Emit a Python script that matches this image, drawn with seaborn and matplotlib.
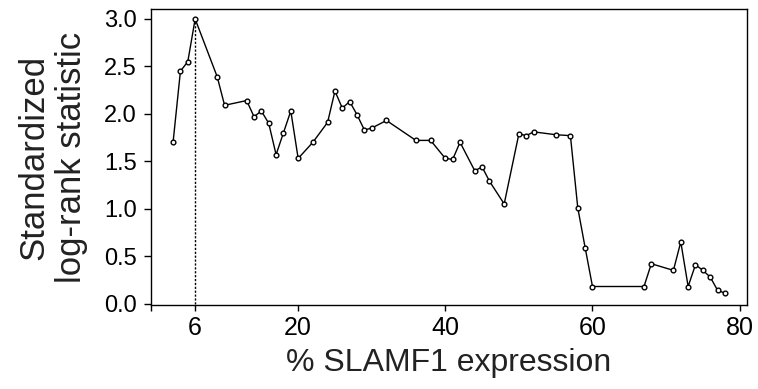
import matplotlib
matplotlib.use("Agg")
import matplotlib.pyplot as plt
import seaborn as sns
import pandas as pd

# Data
slamf1_pct = [3, 4, 5, 6, 9, 10, 13, 14, 15, 16, 17, 18, 19, 20, 22, 24, 25, 26,
              27, 28, 29, 30, 32, 36, 38, 40, 41, 42, 44, 45, 46, 48, 50, 51, 52,
              55, 57, 58, 59, 60, 67, 68, 71, 72, 73, 74, 75, 76, 77, 78]
logrank_stat = [1.70, 2.45, 2.55, 3.00, 2.39, 2.09, 2.14, 1.97, 2.03, 1.90, 1.57,
                1.80, 2.03, 1.53, 1.70, 1.91, 2.24, 2.06, 2.13, 1.99, 1.83, 1.85,
                1.93, 1.72, 1.72, 1.53, 1.52, 1.70, 1.40, 1.44, 1.29, 1.05, 1.79,
                1.77, 1.81, 1.78, 1.77, 1.01, 0.59, 0.18, 0.18, 0.42, 0.35, 0.65,
                0.18, 0.41, 0.35, 0.28, 0.14, 0.11]
cutoff = 6
x_ticks = [0, 6, 20, 40, 60, 80]
x_tick_labels = ["", "6", "20", "40", "60", "80"]
y_ticks = [0.0, 0.5, 1.0, 1.5, 2.0, 2.5, 3.0]
x_label = "% SLAMF1 expression"
y_label = "Standardized\nlog-rank statistic"

df = pd.DataFrame({"x": slamf1_pct, "y": logrank_stat})

sns.set_style("white")
plt.rcParams["font.family"] = ["Liberation Sans", "DejaVu Sans"]

fig = plt.figure(figsize=(7.58, 3.89), dpi=100)
ax = fig.add_axes([151 / 758, 1 - 305 / 389, (747 - 151) / 758, (305 - 9) / 389])

cut_y = logrank_stat[slamf1_pct.index(cutoff)]
ax.plot([cutoff, cutoff], [0, cut_y], color="black", linestyle=(0, (1.6, 1.2)),
        linewidth=1.0, zorder=1)

sns.lineplot(data=df, x="x", y="y", ax=ax, color="black", linewidth=1.0,
             marker="o", markersize=3.4, markerfacecolor="white",
             markeredgecolor="black", markeredgewidth=1.0, zorder=3)

ax.set_xlim(0, 81)
ax.set_ylim(-0.015, 3.105)
ax.set_xticks(x_ticks)
ax.set_xticklabels(x_tick_labels)
ax.set_yticks(y_ticks)
ax.set_yticklabels([f"{v:.1f}" for v in y_ticks])

for s in ax.spines.values():
    s.set_color("black")
    s.set_linewidth(1.0)
    s.set_visible(True)

ax.tick_params(axis="x", direction="out", length=4, width=1, pad=4,
               labelsize=18, colors="black", bottom=True)
ax.tick_params(axis="y", direction="out", length=5, width=1, pad=5,
               labelsize=17, colors="black", left=True)

ax.set_xlabel(x_label, fontsize=23, color="#222222", labelpad=6)
ax.set_ylabel(y_label, fontsize=25, color="#222222", labelpad=12,
              linespacing=1.15)

fig.savefig("out.png", dpi=100, facecolor="white")
